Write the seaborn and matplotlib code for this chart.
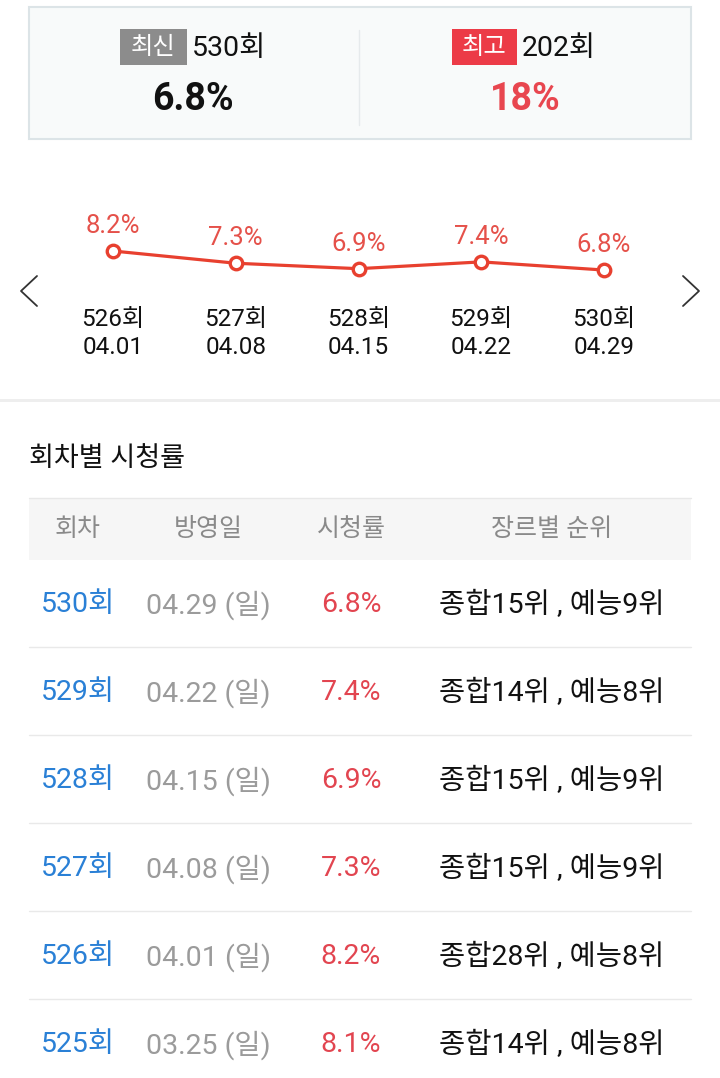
import matplotlib
matplotlib.use("Agg")
import matplotlib.pyplot as plt
from matplotlib.patches import Rectangle
import seaborn as sns
import pandas as pd

# data
chart_eps = ["526회", "527회", "528회", "529회", "530회"]
chart_dates = ["04.01", "04.08", "04.15", "04.22", "04.29"]
chart_ratings = [8.2, 7.3, 6.9, 7.4, 6.8]

latest_ep = "530회"
latest_rating = "6.8%"
best_ep = "202회"
best_rating = "18%"

table_header = ["회차", "방영일", "시청률", "장르별 순위"]
table_eps = ["530회", "529회", "528회", "527회", "526회", "525회"]
table_dates = ["04.29 (일)", "04.22 (일)", "04.15 (일)", "04.08 (일)", "04.01 (일)", "03.25 (일)"]
table_ratings = [6.8, 7.4, 6.9, 7.3, 8.2, 8.1]
table_ranks = ["종합15위 , 예능9위", "종합14위 , 예능8위", "종합15위 , 예능9위",
               "종합15위 , 예능9위", "종합28위 , 예능8위", "종합14위 , 예능8위"]

sns.set_theme(style="white")
plt.rcParams['font.family'] = ['Roboto', 'Noto Sans CJK KR', 'DejaVu Sans']

W, H = 720, 1078
fig = plt.figure(figsize=(W / 100, H / 100), dpi=100, facecolor="white")

# background axes in pixel coordinates for the page layout
ax0 = fig.add_axes([0, 0, 1, 1])
ax0.set_xlim(0, W)
ax0.set_ylim(H, 0)
ax0.axis("off")

# top summary box
ax0.add_patch(Rectangle((29, 7), 662, 132, facecolor="#f8fafa", edgecolor="#dce4e7", lw=1.5))
ax0.plot([359, 359], [30, 125], color="#e6eaec", lw=1)
ax0.add_patch(Rectangle((120, 29), 67, 36, facecolor="#8c8c8c", edgecolor="none"))
ax0.text(153.5, 47, "최신", color="white", fontsize=17.5, ha="center", va="center")
ax0.text(192, 49, latest_ep, color="#111111", fontsize=20.5, ha="left", va="center")
ax0.text(193, 99, latest_rating, color="#111111", fontsize=27, fontweight="bold", ha="center", va="center")
ax0.add_patch(Rectangle((452, 29), 65, 36, facecolor="#ec3b47", edgecolor="none"))
ax0.text(484.5, 47, "최고", color="white", fontsize=17.5, ha="center", va="center")
ax0.text(522, 49, best_ep, color="#111111", fontsize=20.5, ha="left", va="center")
ax0.text(525, 99, best_rating, color="#e8464f", fontsize=27, fontweight="bold", ha="center", va="center")

# arrows
ax0.plot([37, 21, 37], [276, 291, 306], color="#333333", lw=1.3)
ax0.plot([683, 699, 683], [276, 291, 306], color="#333333", lw=1.3)

# section separator
ax0.add_patch(Rectangle((0, 399), W, 3, facecolor="#eeeeee", edgecolor="none"))

# table section
ax0.text(29, 458, "회차별 시청률", color="#111111", fontsize=19.5, ha="left", va="center")
ax0.add_patch(Rectangle((29, 498), 662, 62, facecolor="#f6f6f6", edgecolor="none"))
ax0.plot([29, 691], [498, 498], color="#e8e8e8", lw=1)
col_x = [78, 208, 351, 552]
for cx, h in zip(col_x, table_header):
    ax0.text(cx, 529, h, color="#8a8a8a", fontsize=18, ha="center", va="center")

row_y0, row_h = 603, 88
for i in range(len(table_eps)):
    y = row_y0 + i * row_h
    ax0.text(col_x[0], y + 2, table_eps[i], color="#2a80d6", fontsize=20.5, ha="center", va="center")
    ax0.text(col_x[1], y + 2, table_dates[i], color="#9b9b9b", fontsize=20.5, ha="center", va="center")
    ax0.text(col_x[2], y + 2, f"{table_ratings[i]}%", color="#e24550", fontsize=20.5, ha="center", va="center")
    ax0.text(col_x[3], y + 2, table_ranks[i], color="#111111", fontsize=20.5, ha="center", va="center")
    if i < len(table_eps) - 1:
        ax0.plot([29, 691], [y + 44, y + 44], color="#e9e9e9", lw=1)

# line chart, placed over pixel rows 200..300
ax = fig.add_axes([0, 1 - 300 / H, 1, 100 / H])
ax.patch.set_alpha(0)
df = pd.DataFrame({"idx": range(len(chart_ratings)), "rating": chart_ratings})
sns.lineplot(data=df, x="idx", y="rating", ax=ax, color="#e8402f", lw=2.3,
             marker="o", markersize=9, markerfacecolor="white",
             markeredgecolor="#e8402f", markeredgewidth=2.4)
ax.set_xlim(-113 / 122.75, (W - 113) / 122.75)
ax.set_ylim(8.2 - 49 / 13.6, 8.2 + 51 / 13.6)
ax.axis("off")
for i, v in enumerate(chart_ratings):
    ax.annotate(f"{v}%", (i, v), xytext=(0, 18), textcoords="offset points",
                ha="center", va="center", color="#e5514a", fontsize=18.5)
    ax.annotate(chart_eps[i], (i, 0), xycoords=("data", "axes fraction"),
                xytext=(0, -14), textcoords="offset points",
                ha="center", va="center", color="#111111", fontsize=17.5)
    ax.annotate(chart_dates[i], (i, 0), xycoords=("data", "axes fraction"),
                xytext=(0, -34), textcoords="offset points",
                ha="center", va="center", color="#111111", fontsize=17.5)

fig.savefig("out.png", dpi=100, facecolor="white")
